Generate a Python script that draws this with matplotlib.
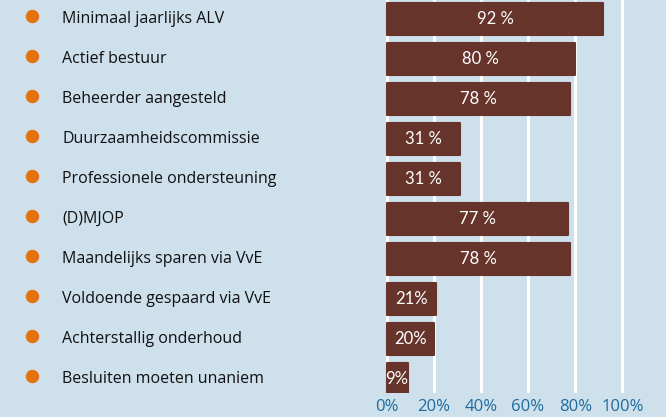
import matplotlib
matplotlib.use("Agg")
import matplotlib.pyplot as plt
import matplotlib.transforms as mtransforms

categories = ['Minimaal jaarlijks ALV', 'Actief bestuur', 'Beheerder aangesteld',
              'Duurzaamheidscommissie', 'Professionele ondersteuning', '(D)MJOP',
              'Maandelijks sparen via VvE', 'Voldoende gespaard via VvE',
              'Achterstallig onderhoud', 'Besluiten moeten unaniem']
values = [92, 80, 78, 31, 31, 77, 78, 21, 20, 9]
value_labels = ['92 %', '80 %', '78 %', '31 %', '31 %', '77 %', '78 %', '21%', '20%', '9%']
ticks = [0, 20, 40, 60, 80, 100]

bg = '#cde0eb'
bar_color = '#66342a'
dot_color = '#e2730f'
tick_color = '#1f6c9c'

fig = plt.figure(figsize=(6.66, 4.17), dpi=100, facecolor=bg)
ax = fig.add_axes([370 / 666, 24 / 417, 296 / 666, 393 / 417], facecolor=bg)

y = list(range(len(categories)))
ax.barh(y, values, height=0.82, left=0, color=bar_color, edgecolor=bar_color,
        linewidth=1.5, joinstyle='round', zorder=3)

for yi, v, lab in zip(y, values, value_labels):
    ax.text(v / 2, yi, lab, color='white', ha='center', va='center',
            fontsize=12, family='Lato', zorder=4)

ax.set_xlim(-7.0, 118.5)
ax.set_ylim(9.35, -0.475)
ax.set_xticks(ticks)
ax.set_xticklabels([f'{t}%' for t in ticks], color=tick_color, fontsize=12, family='Open Sans')
ax.set_yticks([])
ax.tick_params(axis='x', length=0, pad=4)
ax.grid(axis='x', color='white', linewidth=2.2, zorder=1)
for s in ax.spines.values():
    s.set_visible(False)

# category labels with orange bullets on the left
trans = mtransforms.blended_transform_factory(fig.transFigure, ax.transData)
for yi, cat in zip(y, categories):
    fig.text(62 / 666, yi, cat, transform=trans, ha='left', va='center',
             fontsize=11.5, family='Open Sans', color='#111111')
ax.scatter([32 / 666] * len(y), [yi - 0.08 for yi in y], s=75, color=dot_color,
           transform=trans, clip_on=False, zorder=5)

fig.savefig('out.png', dpi=100, facecolor=bg)
